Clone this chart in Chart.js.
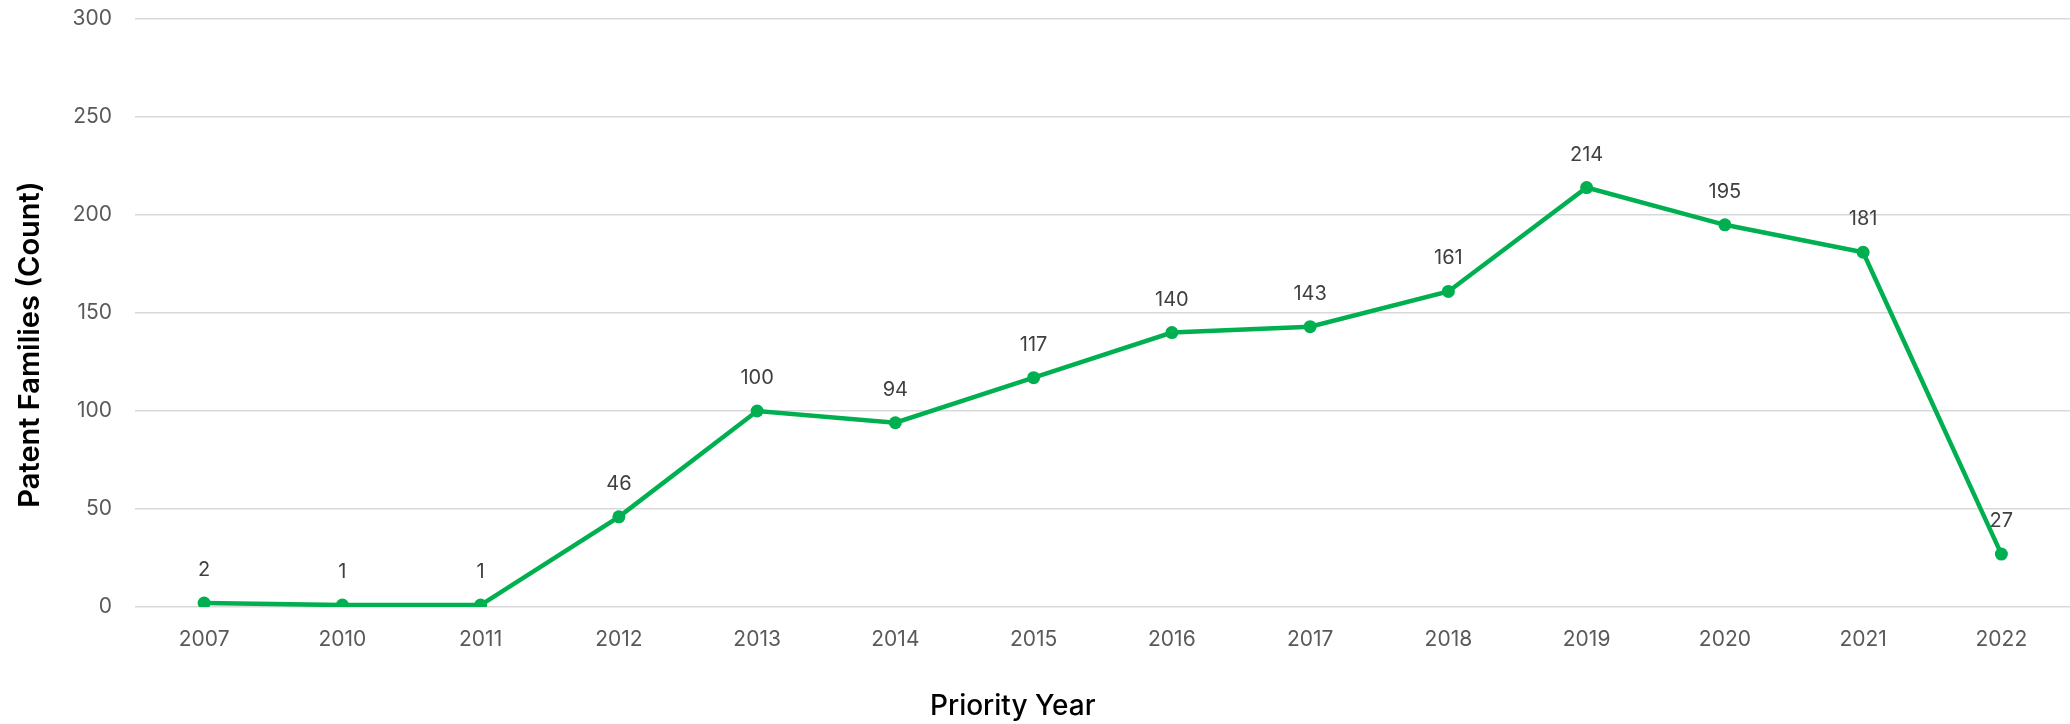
<!DOCTYPE html>
<html>
<head>
<meta charset="utf-8">
<script src="https://cdn.jsdelivr.net/npm/chart.js@4.4.1/dist/chart.umd.min.js"></script>
<style>
  html, body { margin: 0; padding: 0; background: #fff; overflow: hidden; }
  /* plot runs slightly past the right edge of the window */
  #wrap { width: 2077px; height: 724px; position: relative; }
</style>
</head>
<body>
<div id="wrap"><canvas id="familiesChart"></canvas></div>
<script>
const years = ['2007', '2010', '2011', '2012', '2013', '2014', '2015', '2016', '2017', '2018', '2019', '2020', '2021', '2022'];
const familyCounts = [2, 1, 1, 46, 100, 94, 117, 140, 143, 161, 214, 195, 181, 27];
const yTicks = [0, 50, 100, 150, 200, 250, 300];
const yTitle = 'Patent Families (Count)';
const xTitle = 'Priority Year';

const FONT = 'Inter, "Open Sans", "Liberation Sans", sans-serif';
const GREEN = '#00b050';

// writes each point's count just above its marker
const pointLabels = {
    id: 'pointLabels',
    afterDatasetsDraw(chart) {
        const ctx = chart.ctx;
        const meta = chart.getDatasetMeta(0);
        ctx.save();
        ctx.font = `20px ${FONT}`;
        ctx.fillStyle = '#404040';
        ctx.textAlign = 'center';
        ctx.textBaseline = 'middle';
        meta.data.forEach((pt, i) => {
            ctx.fillText(String(familyCounts[i]), pt.x, pt.y - 33);
        });
        ctx.restore();
    }
};

// axis titles: the vertical one sits a little below the plot middle,
// the horizontal one a little left of it
const axisTitles = {
    id: 'axisTitles',
    afterDraw(chart) {
        const ctx = chart.ctx;
        const area = chart.chartArea;
        ctx.save();
        ctx.fillStyle = '#000';
        ctx.textAlign = 'center';
        ctx.textBaseline = 'middle';

        ctx.font = `500 28px ${FONT}`;
        ctx.fillText(xTitle, (area.left + area.right) / 2 - 90, chart.height - 17);

        ctx.translate(30, (area.top + chart.height) / 2 - 27);
        ctx.rotate(-Math.PI / 2);
        ctx.font = `600 29px ${FONT}`;
        ctx.fillText(yTitle, 0, 0);
        ctx.restore();
    }
};

new Chart(document.getElementById('familiesChart'), {
    type: 'line',
    data: {
        labels: years,
        datasets: [{
            data: familyCounts,
            borderColor: GREEN,
            backgroundColor: GREEN,
            borderWidth: 4.5,
            pointRadius: 6.5,
            pointBorderWidth: 0,
            pointBackgroundColor: GREEN,
            tension: 0
        }]
    },
    options: {
        responsive: true,
        maintainAspectRatio: false,
        animation: false,
        layout: { padding: { top: 19, right: 0, left: 0, bottom: 0 } },
        plugins: {
            legend: { display: false },
            tooltip: { enabled: false }
        },
        scales: {
            x: {
                offset: true,
                grid: { display: false, drawTicks: false, offset: true },
                border: { display: false },
                ticks: {
                    color: '#595959',
                    font: { family: FONT, size: 21 },
                    padding: 20,
                    maxRotation: 0,
                    autoSkip: false
                },
                afterFit: s => {
                    s.height = 117;
                    s.paddingLeft = 0;
                    s.paddingRight = 0;
                }
            },
            y: {
                min: 0,
                max: 300,
                afterBuildTicks: s => { s.ticks = yTicks.map(v => ({ value: v })); },
                grid: { color: '#d9d9d9', lineWidth: 1.5, drawTicks: false },
                border: { display: false },
                ticks: {
                    color: '#595959',
                    font: { family: FONT, size: 21 },
                    padding: 23
                },
                afterFit: s => {
                    s.width = 135;
                    s.paddingTop = 0;
                    s.paddingBottom = 0;
                }
            }
        }
    },
    plugins: [pointLabels, axisTitles]
});
</script>
</body>
</html>
